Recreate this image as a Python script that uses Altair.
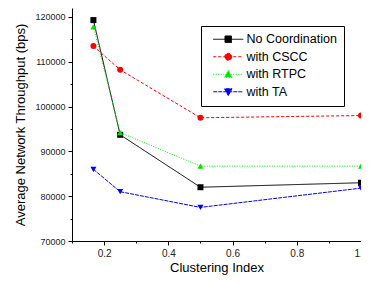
import altair as alt
import pandas as pd

series_names = ["No Coordination", "with CSCC", "with RTPC", "with TA"]
x_values = [1/6, 0.25, 0.5, 1.0]
no_coord = [119300, 93700, 82000, 83000]
cscc = [113500, 108200, 97500, 98000]
rtpc = [117800, 94200, 86700, 86700]
ta = [86000, 81000, 77500, 81800]
colors = ["#000000", "#ff0000", "#00e600", "#0000ff"]
dashes = [[1, 0], [3, 2], [1, 1.5], [4, 1]]
marker_shapes = ["square", "circle", "triangle-up", "triangle-down"]
legend_paths = [
    "M-3,0H3M-0.65,-0.65H0.65V0.65H-0.65Z",
    "M-3,0H3M0.7,0A0.7,0.7 0 1,1 -0.7,0A0.7,0.7 0 1,1 0.7,0Z",
    "M-3,0H3M0,-0.75L0.75,0.6H-0.75Z",
    "M-3,0H3M0,0.75L0.75,-0.6H-0.75Z",
]

rows = []
for name, vals in zip(series_names, [no_coord, cscc, rtpc, ta]):
    for x, v in zip(x_values, vals):
        rows.append({"series": name, "x": x, "y": v})
df = pd.DataFrame(rows)

font = "Liberation Sans"
xscale = alt.Scale(domain=[0.1, 1.0], nice=False, zero=False)
yscale = alt.Scale(domain=[70000, 122000], nice=False, zero=False)

x_ticks = [round(0.1 * i, 1) for i in range(1, 11)]
y_ticks = list(range(70000, 122001, 5000))

xaxis = alt.Axis(
    title="Clustering Index", values=x_ticks, grid=False,
    labelExpr="(round(datum.value*10) % 2 == 0) ? format(datum.value, '.1f') : ''",
    tickSize={"condition": {"test": "round(datum.value*10) % 2 == 0", "value": 4}, "value": 2},
    labelFontSize=10, titleFontSize=13, labelFont=font, titleFont=font,
    titleFontWeight="normal",
    domainColor="#000", tickColor="#000", labelColor="#222", titleColor="#000",
    labelPadding=3, titlePadding=3, labelFlush=False, labelOverlap=False,
)
yaxis = alt.Axis(
    title="Average Network Throughput (bps)", values=y_ticks, grid=False,
    labelExpr="datum.value % 10000 == 0 ? format(datum.value, 'd') : ''",
    tickSize={"condition": {"test": "datum.value % 10000 == 0", "value": 4}, "value": 2},
    labelFontSize=9, titleFontSize=13, labelFont=font, titleFont=font,
    titleFontWeight="normal",
    domainColor="#000", tickColor="#000", labelColor="#222", titleColor="#000",
    labelPadding=3, titlePadding=7, labelFlush=False, labelOverlap=False,
)

dom = series_names


def make_legend():
    return alt.Legend(
        title=None, orient="none", legendX=129, legendY=18,
        strokeColor="#000", padding=7, fillColor="white",
        labelFontSize=12.5, labelFont=font, labelColor="#000",
        symbolSize=100, symbolStrokeWidth=1, symbolOpacity=1,
        rowPadding=4.5, labelOffset=12, symbolOffset=14,
    )


base = alt.Chart(df).encode(
    x=alt.X("x:Q", scale=xscale, axis=xaxis),
    y=alt.Y("y:Q", scale=yscale, axis=yaxis),
)

legend_layer = base.mark_point(filled=True, size=0, strokeWidth=1).encode(
    shape=alt.Shape("series:N", scale=alt.Scale(domain=dom, range=legend_paths), legend=make_legend()),
    color=alt.Color("series:N", scale=alt.Scale(domain=dom, range=colors), legend=make_legend()),
)

lines = base.mark_line(strokeWidth=1).encode(
    stroke=alt.Stroke("series:N", scale=alt.Scale(domain=dom, range=colors), legend=make_legend()),
    strokeDash=alt.StrokeDash("series:N", scale=alt.Scale(domain=dom, range=dashes), legend=make_legend()),
)

point_layers = []
for name, c, shp in zip(series_names, colors, marker_shapes):
    point_layers.append(
        base.transform_filter(alt.datum.series == name).mark_point(
            shape=shp, filled=True, size=36, color=c, opacity=1
        )
    )

chart = alt.layer(legend_layer, lines, *point_layers).properties(
    width=289, height=233,
    autosize=alt.AutoSizeParams(type="none"),
    padding={"left": 64, "top": 0, "right": 0, "bottom": 34},
).configure_view(stroke=None)

chart.save("out.html", embed_options={"renderer": "svg", "actions": False})
